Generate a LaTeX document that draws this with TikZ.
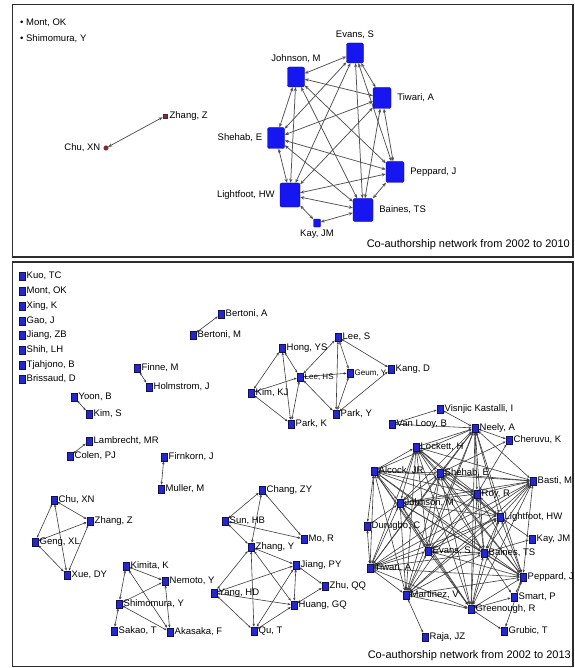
\documentclass[tikz,border=0pt]{standalone}
\usepackage{fontspec}
\setmainfont{Liberation Sans}
\usetikzlibrary{arrows.meta}
\definecolor{nfill}{RGB}{38,38,205}
\definecolor{nline}{RGB}{16,16,80}
\definecolor{tfill}{RGB}{22,22,240}
\definecolor{ecol}{RGB}{60,60,60}
\definecolor{tecol}{RGB}{80,80,80}
\definecolor{framec}{RGB}{45,45,45}
\definecolor{rdot}{RGB}{165,30,45}
\pgfdeclarelayer{bg}
\pgfsetlayers{bg,main}
\newcommand\bn[4][]{\node[bnode,label={[blab,#1]right:{#4}}] (#2) at (#3) {};}
\tikzset{
  frame/.style={draw=framec,line width=1.6pt},
  bnode/.style={rectangle,draw=nline,fill=nfill,line width=0.6pt,minimum width=6pt,minimum height=8pt,inner sep=0pt},
  blab/.style={font=\fontsize{9.5}{10}\selectfont,inner sep=1.2pt,label distance=0pt},
  tnode/.style={rectangle,rounded corners=2pt,draw=blue!70!black,fill=tfill,line width=0.4pt,inner sep=0pt},
  tlab/.style={font=\fontsize{9.5}{10}\selectfont,inner sep=1pt,label distance=4pt},
  tedge/.style={draw=tecol,line width=0.75pt,{Stealth[length=4pt,width=3.2pt]}-{Stealth[length=4pt,width=3.2pt]}},
  bedge/.style={draw=ecol,line width=0.6pt,{Stealth[length=3pt,width=2.4pt]}-{Stealth[length=3pt,width=2.4pt]}},
  caption/.style={font=\fontsize{11}{12}\selectfont,inner sep=0pt}
}
\begin{document}
\begin{tikzpicture}[x=1pt,y=-1pt]
\useasboundingbox (0,0) rectangle (574,668);
\draw[frame] (12.5,4.5) rectangle (573,257);
\draw[frame] (12.5,262) rectangle (573,666.5);

% ---------------- top panel ----------------
\node[font=\fontsize{9.5}{10}\selectfont,anchor=west,inner sep=0pt] (tmont) at (20,23) {\textbullet\ Mont, OK};
\node[font=\fontsize{9.5}{10}\selectfont,anchor=west,inner sep=0pt] (tshimo) at (20,39) {\textbullet\ Shimomura, Y};
\node[rectangle,draw=black!80,fill=rdot,minimum size=4.5pt,inner sep=0pt,line width=0.4pt,label={[tlab,label distance=1pt]right:{Zhang, Z}}] (tzhang) at (165,116) {};
\node[circle,draw=black!80,fill=rdot,minimum size=4.5pt,inner sep=0pt,line width=0.4pt,label={[tlab,label distance=2pt]left:{Chu, XN}}] (tchu) at (106,148) {};

\node[tnode,minimum width=17pt,minimum height=20pt,label={[tlab,label distance=3pt]above:{Johnson, M}}] (tJ) at (296,77) {};
\node[tnode,minimum width=17pt,minimum height=20pt,label={[tlab,label distance=3pt]above:{Evans, S}}] (tE) at (355,53) {};
\node[tnode,minimum width=18pt,minimum height=21pt,label={[tlab,label distance=5pt]right:{Tiwari, A}}] (tT) at (382,98) {};
\node[tnode,minimum width=17pt,minimum height=21pt,label={[tlab]left:{Shehab, E}}] (tS) at (276,138) {};
\node[tnode,minimum width=18pt,minimum height=21pt,label={[tlab,label distance=5pt]right:{Peppard, J}}] (tP) at (395,172) {};
\node[tnode,minimum width=20pt,minimum height=24pt,label={[tlab]left:{Lightfoot, HW}}] (tL) at (290,195) {};
\node[tnode,minimum width=20pt,minimum height=23pt,label={[tlab,label distance=5pt]right:{Baines, TS}}] (tB) at (363,210) {};
\node[tnode,minimum width=7pt,minimum height=8pt,rounded corners=1pt,label={[tlab,label distance=2pt]below:{Kay, JM}}] (tK) at (317,223) {};

\node[caption,anchor=east] (tcap) at (570,245) {Co-authorship network from 2002 to 2010};

% ---------------- bottom panel ----------------
\bn{kuo}{22,276}{Kuo, TC}
\bn{mont}{22,291}{Mont, OK}
\bn{xing}{22,306}{Xing, K}
\bn{gao}{22,321}{Gao, J}
\bn{jzb}{22,335}{Jiang, ZB}
\bn{shih}{22,350}{Shih, LH}
\bn{tjah}{22,365}{Tjahjono, B}
\bn{briss}{22,379}{Brissaud, D}
\bn{bertA}{221,314}{Bertoni, A}
\bn{bertM}{193,335}{Bertoni, M}
\bn{finne}{137,368}{Finne, M}
\bn{holm}{149,387}{Holmstrom, J}
\bn{yoon}{74,397}{Yoon, B}
\bn{kims}{89,414}{Kim, S}
\bn{lamb}{89,441}{Lambrecht, MR}
\bn{colen}{70,456}{Colen, PJ}
\bn{firn}{164,457}{Firnkorn, J}
\bn{muller}{161,489}{Muller, M}

\bn{chu}{54,500}{Chu, XN}
\bn{zhz}{90,521}{Zhang, Z}
\bn{geng}{35,542}{Geng, XL}
\bn{xue}{67,575}{Xue, DY}

\bn{kimita}{126,566}{Kimita, K}
\bn{nemoto}{165,581}{Nemoto, Y}
\bn{shimo}{119,604}{Shimomura, Y}
\bn{sakao}{114,631}{Sakao, T}
\bn{akasaka}{170,632}{Akasaka, F}

\bn{chang}{262,490}{Chang, ZY}
\bn{sun}{225,521}{Sun, HB}
\bn{mo}{304,539}{Mo, R}
\bn{zhy}{251,547}{Zhang, Y}
\bn{jpy}{296,565}{Jiang, PY}
\bn{zhu}{325,586}{Zhu, QQ}
\bn{yang}{214,593}{Yang, HD}
\bn{huang}{294,605}{Huang, GQ}
\bn{qu}{254,631}{Qu, T}

\bn{hong}{282,348}{Hong, YS}
\bn{lees}{338,337}{Lee, S}
\bn[font=\fontsize{8}{9}\selectfont]{leehs}{300,377}{Lee, HS}
\bn[font=\fontsize{8}{9}\selectfont]{geum}{350,373}{Geum, Y}
\bn{kang}{391,369}{Kang, D}
\bn{kimkj}{251,393}{Kim, KJ}
\bn{parky}{336,414}{Park, Y}
\bn{parkk}{291,424}{Park, K}

\bn{visnjic}{440,409}{Visnjic Kastalli, I}
\bn{vanlooy}{392,424}{Van Looy, B}
\bn{neely}{475,428}{Neely, A}
\bn{cheruvu}{509,440}{Cheruvu, K}
\bn{lockett}{416,447}{Lockett, H}
\bn{alcock}{374,471}{Alcock, JR}
\bn{shehab}{440,473}{Shehab, E}
\bn{basti}{533,481}{Basti, M}
\bn{roy}{477,494}{Roy, R}
\bn{johnson}{400,503}{Johnson, M}
\bn{light}{500,517}{Lightfoot, HW}
\bn{durugbo}{367,526}{Durugbo, C}
\bn{kay}{532,539}{Kay, JM}
\bn{evans}{428,551}{Evans, S}
\bn{baines}{484,553}{Baines, TS}
\bn{tiwari}{370,568}{Tiwari, A}
\bn{peppard}{523,577}{Peppard, J}
\bn{martinez}{406,595}{Martinez, V}
\bn{smart}{514,597}{Smart, P}
\bn{green}{471,609}{Greenough, R}
\bn{raja}{425,637}{Raja, JZ}
\bn{grubic}{504,631}{Grubic, T}

\node[caption,anchor=east] (bcap) at (571,656) {Co-authorship network from 2002 to 2013};

% ---------------- edges ----------------
\begin{pgfonlayer}{bg}
\foreach \a [count=\i] in {tJ,tE,tT,tS,tP,tL,tB}{
  \foreach \b [count=\j] in {tJ,tE,tT,tS,tP,tL,tB}{
    \ifnum\i<\j \draw[tedge] (\a) -- (\b); \fi
  }
}
\draw[tedge] (tK) -- (tL);
\draw[tedge] (tK) -- (tB);
\draw[tedge] (tchu) -- (tzhang);

\foreach \a/\b in {bertM/bertA,finne/holm,yoon/kims,colen/lamb,muller/firn,
  chu/zhz,chu/geng,chu/xue,geng/zhz,geng/xue,zhz/xue,
  kimita/nemoto,kimita/shimo,kimita/akasaka,nemoto/shimo,nemoto/akasaka,shimo/sakao,shimo/akasaka,
  sun/chang,zhy/chang,chang/mo,sun/mo,sun/zhy,zhy/jpy,zhy/huang,zhy/qu,yang/zhy,yang/jpy,
  jpy/zhu,jpy/huang,jpy/qu,yang/huang,yang/qu,qu/huang,zhu/huang,
  kimkj/hong,kimkj/leehs,kimkj/parkk,hong/leehs,hong/parkk,leehs/parkk,leehs/lees,leehs/geum,
  leehs/parky,lees/geum,lees/parky,lees/kang,geum/parky,kang/parky,
  vanlooy/visnjic,vanlooy/neely,visnjic/neely,cheruvu/shehab,cheruvu/roy,cheruvu/neely,
  durugbo/alcock,durugbo/tiwari,durugbo/johnson,kay/light,kay/baines,smart/peppard,smart/baines,
  smart/green,raja/martinez,grubic/green,grubic/peppard}
  \draw[bedge] (\a) -- (\b);

\foreach \a [count=\i] in {neely,lockett,alcock,shehab,basti,roy,johnson,light,evans,baines,tiwari,peppard,martinez,green}{
  \foreach \b [count=\j] in {neely,lockett,alcock,shehab,basti,roy,johnson,light,evans,baines,tiwari,peppard,martinez,green}{
    \ifnum\i<\j \draw[bedge] (\a) -- (\b); \fi
  }
}
\end{pgfonlayer}
\end{tikzpicture}
\end{document}
